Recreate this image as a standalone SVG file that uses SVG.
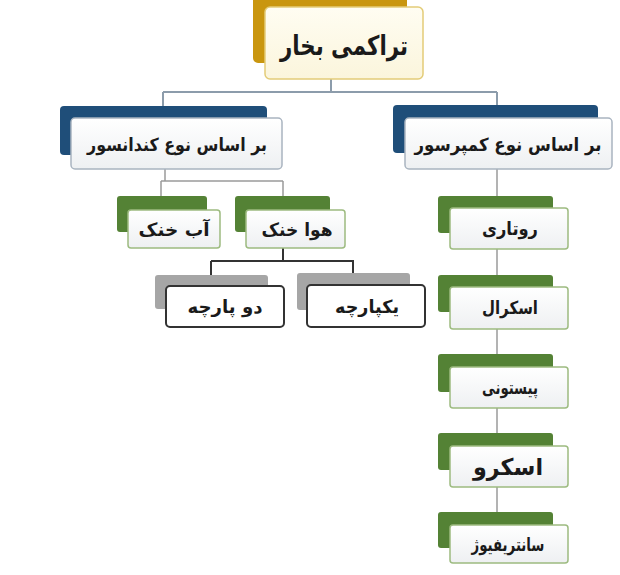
<svg xmlns="http://www.w3.org/2000/svg" width="620" height="575" viewBox="0 0 620 575">
<defs>
<linearGradient id="gw" x1="0" y1="0" x2="0" y2="1">
<stop offset="0" stop-color="#ffffff"/>
<stop offset="1" stop-color="#eef0f2"/>
</linearGradient>
<linearGradient id="gc" x1="0" y1="0" x2="0" y2="1">
<stop offset="0" stop-color="#fffdf2"/>
<stop offset="1" stop-color="#fbf5dc"/>
</linearGradient>
</defs>
<style>
text{font-family:"DejaVu Sans","Noto Sans",sans-serif;font-weight:bold;fill:#1a1a1a;text-anchor:middle;}
.gold{fill:#c9960f;}
.blue{fill:#1f4e79;}
.green{fill:#548235;}
.grey{fill:#a6a6a6;}
.fc{fill:url(#gc);stroke:#e3cc78;stroke-width:1.5;}
.fb{fill:url(#gw);stroke:#a9b4c0;stroke-width:1.5;}
.fg{fill:url(#gw);stroke:#9dbb80;stroke-width:1.5;}
.fk{fill:#ffffff;stroke:#333333;stroke-width:2;}
.c1{fill:none;stroke:#8c9cab;stroke-width:2;}
.c2{fill:none;stroke:#9a9a9a;stroke-width:1.5;}
.c3{fill:none;stroke:#333333;stroke-width:2;}
.t1{font-size:18px;}
.t2{font-size:18px;}
</style>
<rect width="620" height="575" fill="#ffffff"/>
<g id="connectors">
<path class="c1" d="M331 79 V92 M163 92 H497 M163 92 V106 M497 92 V105"/>
<path class="c2" d="M165 169 V181 M161 181 H283 M161 181 V196 M283 181 V196"/>
<path class="c3" d="M283 248 V261 M211 261 H354 M211 261 V275 M353 261 V273"/>
<path class="c2" d="M497 169 V525"/>
</g>
<g id="root">
<rect class="gold" x="253" y="-4" width="154" height="67" rx="5"/>
<rect class="fc" x="265" y="7" width="158" height="72" rx="5"/>
<text x="344" y="55" style="font-size:27px" textLength="128" lengthAdjust="spacingAndGlyphs">تراکمی بخار</text>
</g>
<g id="condenser">
<rect class="blue" x="60" y="106" width="207" height="49" rx="4"/>
<rect class="fb" x="71" y="118" width="211" height="51" rx="4"/>
<text class="t1" x="177" y="151" textLength="180" lengthAdjust="spacingAndGlyphs">بر اساس نوع کندانسور</text>
</g>
<g id="compressor">
<rect class="blue" x="393" y="105" width="205" height="48" rx="4"/>
<rect class="fb" x="405" y="118" width="207" height="51" rx="4"/>
<text class="t1" x="508" y="151" textLength="187" lengthAdjust="spacingAndGlyphs">بر اساس نوع کمپرسور</text>
</g>
<g id="water-cooled">
<rect class="green" x="117" y="196" width="90" height="36" rx="3"/>
<rect class="fg" x="128" y="210" width="92" height="38" rx="3"/>
<text class="t2" x="174" y="236" textLength="71" lengthAdjust="spacingAndGlyphs">آب خنک</text>
</g>
<g id="air-cooled">
<rect class="green" x="235" y="196" width="95" height="36" rx="3"/>
<rect class="fg" x="246" y="210" width="99" height="38" rx="3"/>
<text class="t2" x="297" y="236" textLength="71" lengthAdjust="spacingAndGlyphs">هوا خنک</text>
</g>
<g id="split">
<rect class="grey" x="155" y="275" width="113" height="34" rx="3"/>
<rect class="fk" x="166" y="286" width="118" height="41" rx="4"/>
<text class="t2" x="225" y="313" textLength="75" lengthAdjust="spacingAndGlyphs">دو پارچه</text>
</g>
<g id="packaged">
<rect class="grey" x="297" y="273" width="113" height="37" rx="3"/>
<rect class="fk" x="307" y="285" width="118" height="42" rx="4"/>
<text class="t2" x="367" y="313" textLength="64" lengthAdjust="spacingAndGlyphs">یکپارچه</text>
</g>
<g id="rotary">
<rect class="green" x="438" y="196" width="115" height="37" rx="3"/>
<rect class="fg" x="450" y="208" width="118" height="41" rx="3"/>
<text class="t2" x="510" y="235" textLength="56" lengthAdjust="spacingAndGlyphs">روتاری</text>
</g>
<g id="scroll">
<rect class="green" x="438" y="275" width="115" height="37" rx="3"/>
<rect class="fg" x="450" y="287" width="118" height="42" rx="3"/>
<text class="t2" x="510" y="314" textLength="56" lengthAdjust="spacingAndGlyphs">اسکرال</text>
</g>
<g id="piston">
<rect class="green" x="438" y="354" width="115" height="38" rx="3"/>
<rect class="fg" x="450" y="367" width="118" height="41" rx="3"/>
<text class="t2" x="510" y="394" textLength="56" lengthAdjust="spacingAndGlyphs">پیستونی</text>
</g>
<g id="screw">
<rect class="green" x="438" y="433" width="115" height="37" rx="3"/>
<rect class="fg" x="450" y="446" width="118" height="41" rx="3"/>
<text x="508" y="475" style="font-size:23px" textLength="70" lengthAdjust="spacingAndGlyphs">اسکرو</text>
</g>
<g id="centrifugal">
<rect class="green" x="438" y="512" width="115" height="36" rx="3"/>
<rect class="fg" x="450" y="525" width="118" height="38" rx="3"/>
<text class="t2" x="508" y="551" textLength="73" lengthAdjust="spacingAndGlyphs">سانتریفیوژ</text>
</g>
</svg>
